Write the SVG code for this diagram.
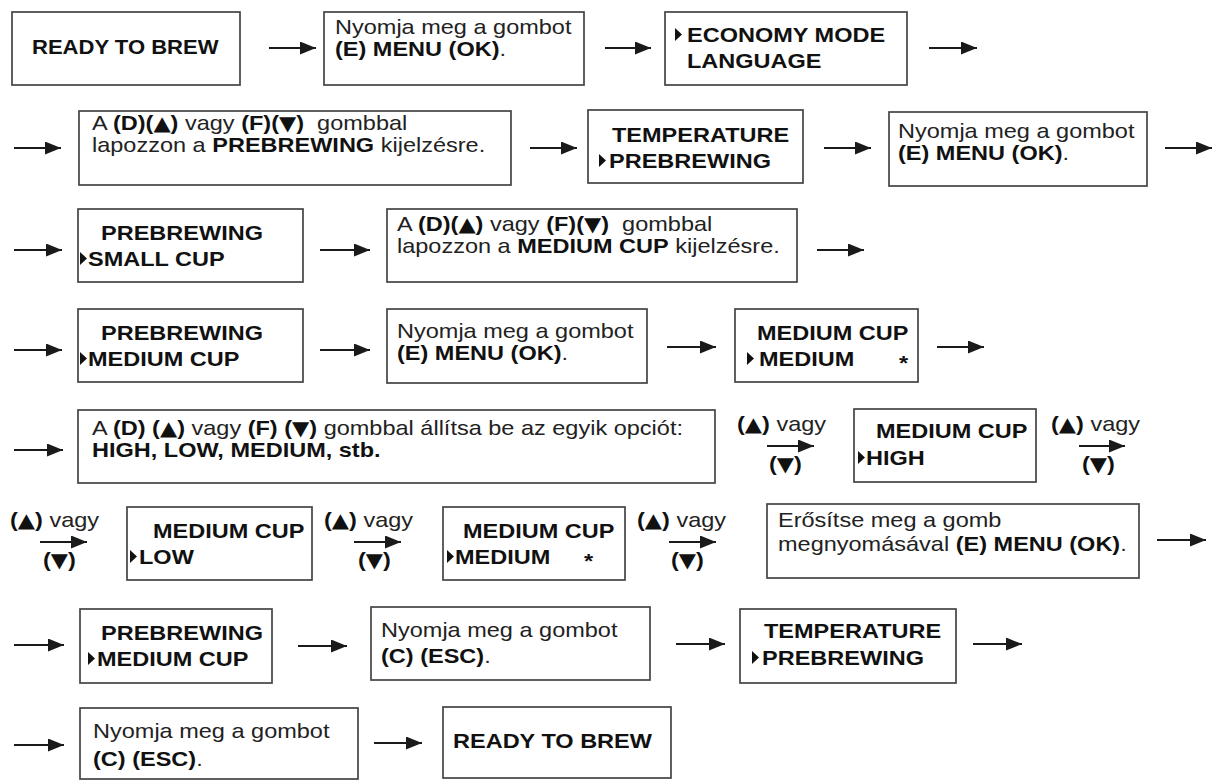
<svg xmlns="http://www.w3.org/2000/svg" width="1215" height="781" viewBox="0 0 1215 781">
<style>
.box{fill:#fff;stroke:#444;stroke-width:1.7}
.t{font-family:"Liberation Sans",Arial,sans-serif;font-size:21px;fill:#222}
.b{font-weight:bold;fill:#111}
.tri{font-family:"DejaVu Sans",sans-serif;font-size:20px;font-weight:normal;fill:#111}
.cn{stroke:#1a1a1a;stroke-width:2;fill:none;marker-end:url(#ah)}
.mk{fill:#111}
</style>
<defs>
<marker id="ah" markerUnits="userSpaceOnUse" markerWidth="17" markerHeight="14" refX="16" refY="6.5" orient="auto"><path d="M0,0 L16,6.5 L0,13 z" fill="#1a1a1a"/></marker>
</defs>
<rect width="1215" height="781" fill="#fff"/>
<g id="connectors">
<line class="cn" x1="269" y1="48" x2="316" y2="48"/>
<line class="cn" x1="605" y1="48" x2="651" y2="48"/>
<line class="cn" x1="929" y1="48" x2="977" y2="48"/>
<line class="cn" x1="14" y1="148" x2="61" y2="148"/>
<line class="cn" x1="530" y1="148" x2="577" y2="148"/>
<line class="cn" x1="824" y1="148" x2="871" y2="148"/>
<line class="cn" x1="1165" y1="148" x2="1212" y2="148"/>
<line class="cn" x1="14" y1="250" x2="62" y2="250"/>
<line class="cn" x1="320" y1="250" x2="370" y2="250"/>
<line class="cn" x1="817" y1="250" x2="864" y2="250"/>
<line class="cn" x1="14" y1="350" x2="62" y2="350"/>
<line class="cn" x1="320" y1="350" x2="370" y2="350"/>
<line class="cn" x1="667" y1="347" x2="716" y2="347"/>
<line class="cn" x1="937" y1="347" x2="984" y2="347"/>
<line class="cn" x1="14" y1="450" x2="63" y2="450"/>
<line class="cn" x1="767" y1="446" x2="814" y2="446"/>
<line class="cn" x1="1079" y1="446" x2="1125" y2="446"/>
<line class="cn" x1="40" y1="542" x2="87" y2="542"/>
<line class="cn" x1="354" y1="542" x2="401" y2="542"/>
<line class="cn" x1="669" y1="542" x2="716" y2="542"/>
<line class="cn" x1="1157" y1="540" x2="1206" y2="540"/>
<line class="cn" x1="14" y1="645" x2="64" y2="645"/>
<line class="cn" x1="298" y1="646" x2="347" y2="646"/>
<line class="cn" x1="676" y1="644" x2="725" y2="644"/>
<line class="cn" x1="973" y1="644" x2="1022" y2="644"/>
<line class="cn" x1="14" y1="745" x2="64" y2="745"/>
<line class="cn" x1="374" y1="743" x2="422" y2="743"/>
<text class="t" transform="translate(737,431) scale(1.12,1)"><tspan class="b">(<tspan class="tri">▲</tspan>)</tspan> vagy</text>
<text class="t b" transform="translate(769,471) scale(1.12,1)">(<tspan class="tri">▼</tspan>)</text>
<text class="t" transform="translate(1051,431) scale(1.12,1)"><tspan class="b">(<tspan class="tri">▲</tspan>)</tspan> vagy</text>
<text class="t b" transform="translate(1082,471) scale(1.12,1)">(<tspan class="tri">▼</tspan>)</text>
<text class="t" transform="translate(10,527) scale(1.12,1)"><tspan class="b">(<tspan class="tri">▲</tspan>)</tspan> vagy</text>
<text class="t b" transform="translate(43,567) scale(1.12,1)">(<tspan class="tri">▼</tspan>)</text>
<text class="t" transform="translate(324,527) scale(1.12,1)"><tspan class="b">(<tspan class="tri">▲</tspan>)</tspan> vagy</text>
<text class="t b" transform="translate(358,567) scale(1.12,1)">(<tspan class="tri">▼</tspan>)</text>
<text class="t" transform="translate(637,527) scale(1.12,1)"><tspan class="b">(<tspan class="tri">▲</tspan>)</tspan> vagy</text>
<text class="t b" transform="translate(671,567) scale(1.12,1)">(<tspan class="tri">▼</tspan>)</text>
</g>
<g id="n1"><rect class="box" x="12" y="12" width="228" height="73"/><text class="t b" transform="translate(32,54) scale(1.05,1)">READY TO BREW</text></g>
<g id="n2"><rect class="box" x="324" y="12" width="260" height="73"/><text class="t" transform="translate(335,34) scale(1.12,1)">Nyomja meg a gombot</text><text class="t" transform="translate(335,56) scale(1.12,1)"><tspan class="b">(E) MENU (OK)</tspan>.</text></g>
<g id="n3"><rect class="box" x="665" y="12" width="242" height="73"/><polygon class="mk" points="675,28 682,34.5 675,41"/><text class="t b" transform="translate(687,42) scale(1.12,1)">ECONOMY MODE</text><text class="t b" transform="translate(687,68) scale(1.12,1)">LANGUAGE</text></g>
<g id="n4"><rect class="box" x="79" y="111" width="432" height="74"/><text class="t" xml:space="preserve" transform="translate(92,130) scale(1.12,1)">A <tspan class="b">(D)(<tspan class="tri">▲</tspan>)</tspan> vagy <tspan class="b">(F)(<tspan class="tri">▼</tspan>)</tspan>  gombbal</text><text class="t" transform="translate(92,152) scale(1.12,1)">lapozzon a <tspan class="b">PREBREWING</tspan> kijelzésre.</text></g>
<g id="n5"><rect class="box" x="588" y="110" width="215" height="73"/><text class="t b" transform="translate(612,142) scale(1.12,1)">TEMPERATURE</text><polygon class="mk" points="599,154 606,160.5 599,167"/><text class="t b" transform="translate(609,168) scale(1.12,1)">PREBREWING</text></g>
<g id="n6"><rect class="box" x="889" y="112" width="258" height="74"/><text class="t" transform="translate(898,138) scale(1.12,1)">Nyomja meg a gombot</text><text class="t" transform="translate(898,160) scale(1.12,1)"><tspan class="b">(E) MENU (OK)</tspan>.</text></g>
<g id="n7"><rect class="box" x="78" y="209" width="225" height="73"/><text class="t b" transform="translate(101,240) scale(1.12,1)">PREBREWING</text><polygon class="mk" points="80,252 87,258.5 80,265"/><text class="t b" transform="translate(88,266) scale(1.12,1)">SMALL CUP</text></g>
<g id="n8"><rect class="box" x="387" y="209" width="410" height="73"/><text class="t" xml:space="preserve" transform="translate(397,231) scale(1.12,1)">A <tspan class="b">(D)(<tspan class="tri">▲</tspan>)</tspan> vagy <tspan class="b">(F)(<tspan class="tri">▼</tspan>)</tspan>  gombbal</text><text class="t" transform="translate(397,253) scale(1.12,1)">lapozzon a <tspan class="b">MEDIUM CUP</tspan> kijelzésre.</text></g>
<g id="n9"><rect class="box" x="78" y="309" width="225" height="73"/><text class="t b" transform="translate(101,340) scale(1.12,1)">PREBREWING</text><polygon class="mk" points="80,352 87,358.5 80,365"/><text class="t b" transform="translate(88,366) scale(1.12,1)">MEDIUM CUP</text></g>
<g id="n10"><rect class="box" x="387" y="309" width="260" height="74"/><text class="t" transform="translate(397,338) scale(1.12,1)">Nyomja meg a gombot</text><text class="t" transform="translate(397,360) scale(1.12,1)"><tspan class="b">(E) MENU (OK)</tspan>.</text></g>
<g id="n11"><rect class="box" x="735" y="309" width="183" height="73"/><text class="t b" transform="translate(757,340) scale(1.12,1)">MEDIUM CUP</text><polygon class="mk" points="747,352 754,358.5 747,365"/><text class="t b" transform="translate(759,366) scale(1.12,1)">MEDIUM</text><text class="t b" transform="translate(899,370) scale(1.12,1)">*</text></g>
<g id="n12"><rect class="box" x="78" y="410" width="637" height="73"/><text class="t" transform="translate(92,435) scale(1.12,1)">A <tspan class="b">(D) (<tspan class="tri">▲</tspan>)</tspan> vagy <tspan class="b">(F) (<tspan class="tri">▼</tspan>)</tspan> gombbal állítsa be az egyik opciót:</text><text class="t b" transform="translate(92,457) scale(1.12,1)">HIGH, LOW, MEDIUM, stb.</text></g>
<g id="n13"><rect class="box" x="854" y="409" width="182" height="73"/><text class="t b" transform="translate(876,438) scale(1.12,1)">MEDIUM CUP</text><polygon class="mk" points="858,451 865,457.5 858,464"/><text class="t b" transform="translate(866,465) scale(1.12,1)">HIGH</text></g>
<g id="n14"><rect class="box" x="127" y="507" width="185" height="73"/><text class="t b" transform="translate(153,538) scale(1.12,1)">MEDIUM CUP</text><polygon class="mk" points="130,550 137,556.5 130,563"/><text class="t b" transform="translate(139,564) scale(1.12,1)">LOW</text></g>
<g id="n15"><rect class="box" x="443" y="507" width="182" height="73"/><text class="t b" transform="translate(463,538) scale(1.12,1)">MEDIUM CUP</text><polygon class="mk" points="447,550 454,556.5 447,563"/><text class="t b" transform="translate(455,564) scale(1.12,1)">MEDIUM</text><text class="t b" transform="translate(584,568) scale(1.12,1)">*</text></g>
<g id="n16"><rect class="box" x="767" y="504" width="372" height="74"/><text class="t" transform="translate(778,527) scale(1.12,1)">Erősítse meg a gomb</text><text class="t" transform="translate(778,551) scale(1.12,1)">megnyomásával <tspan class="b">(E) MENU (OK)</tspan>.</text></g>
<g id="n17"><rect class="box" x="80" y="609" width="192" height="74"/><text class="t b" transform="translate(101,640) scale(1.12,1)">PREBREWING</text><polygon class="mk" points="88,652 95,658.5 88,665"/><text class="t b" transform="translate(97,666) scale(1.12,1)">MEDIUM CUP</text></g>
<g id="n18"><rect class="box" x="371" y="607" width="279" height="73"/><text class="t" transform="translate(381,637) scale(1.12,1)">Nyomja meg a gombot</text><text class="t" transform="translate(381,663) scale(1.12,1)"><tspan class="b">(C) (ESC)</tspan>.</text></g>
<g id="n19"><rect class="box" x="740" y="609" width="216" height="74"/><text class="t b" transform="translate(764,638) scale(1.12,1)">TEMPERATURE</text><polygon class="mk" points="752,651 759,657.5 752,664"/><text class="t b" transform="translate(762,665) scale(1.12,1)">PREBREWING</text></g>
<g id="n20"><rect class="box" x="80" y="708" width="278" height="71"/><text class="t" transform="translate(93,738) scale(1.12,1)">Nyomja meg a gombot</text><text class="t" transform="translate(93,766) scale(1.12,1)"><tspan class="b">(C) (ESC)</tspan>.</text></g>
<g id="n21"><rect class="box" x="443" y="707" width="228" height="71"/><text class="t b" transform="translate(453,748) scale(1.12,1)">READY TO BREW</text></g>
</svg>
